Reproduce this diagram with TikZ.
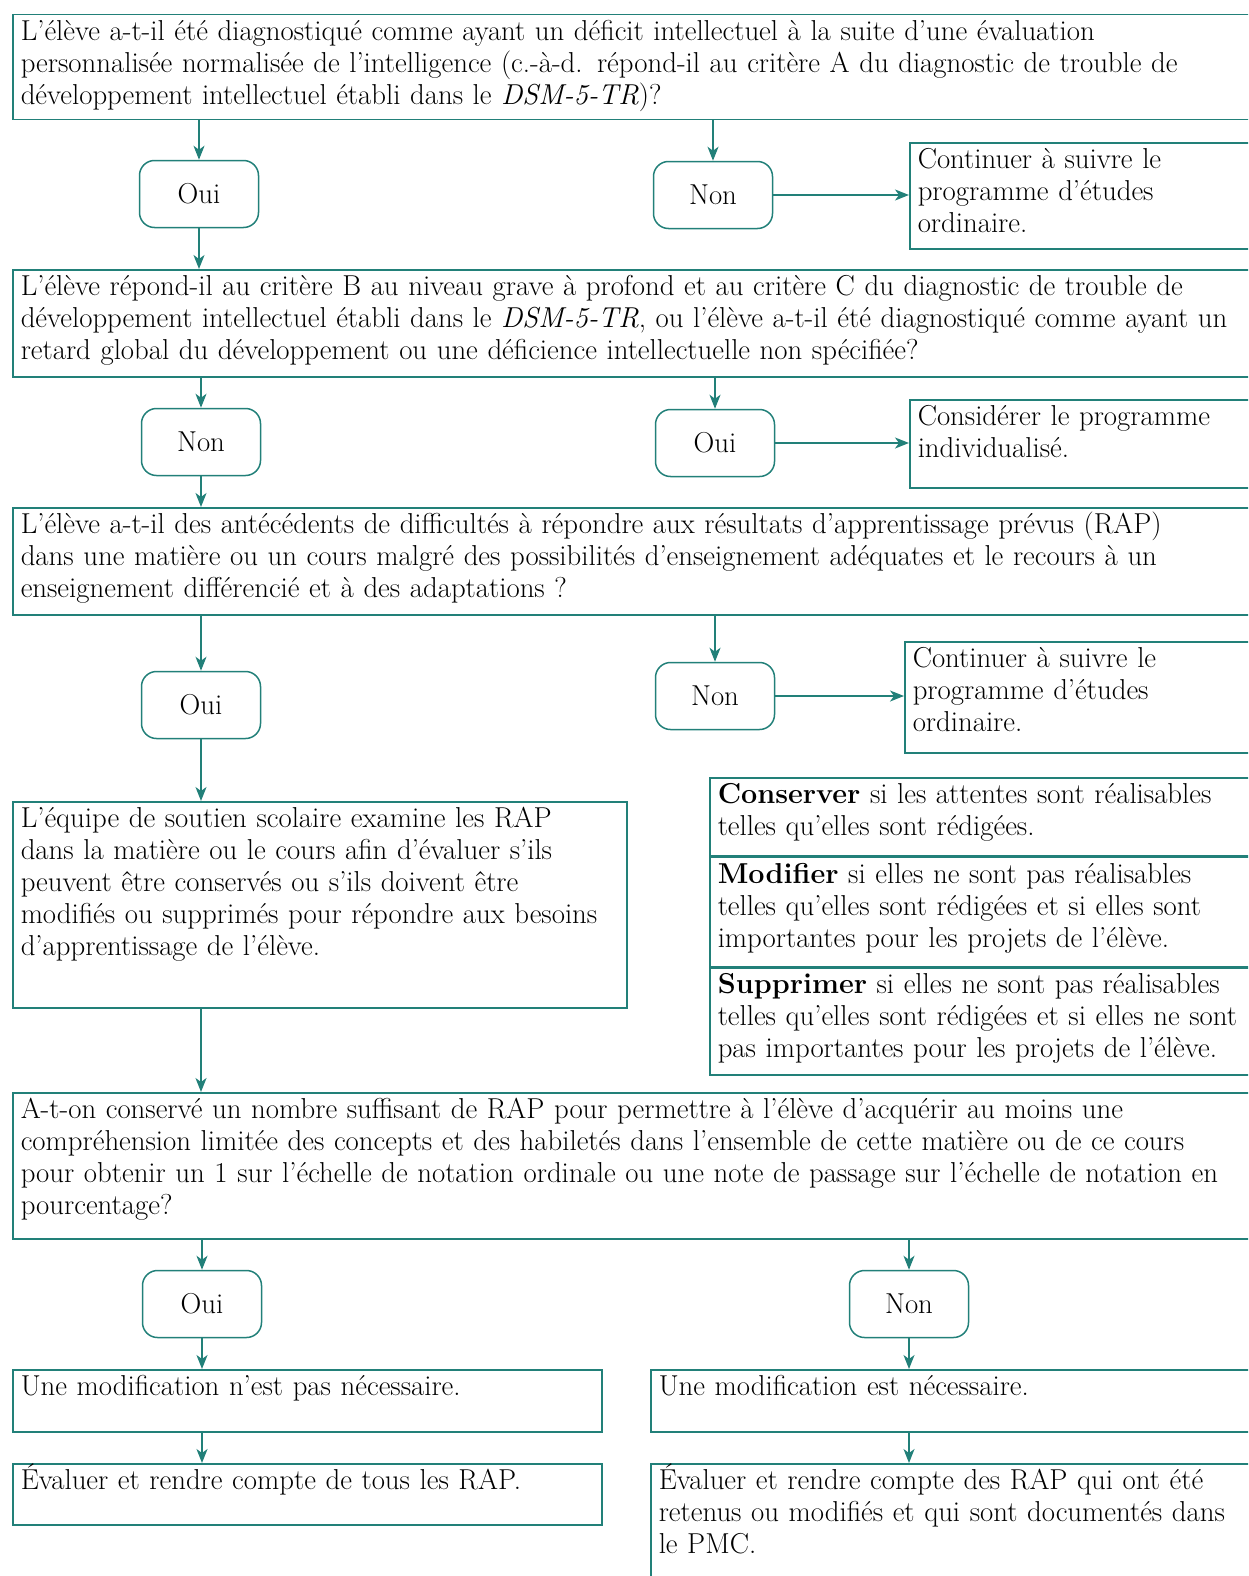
\documentclass[tikz,border=0pt]{standalone}
\usepackage{tikz}
\usetikzlibrary{arrows.meta}
\definecolor{flowteal}{RGB}{34,128,121}

\begin{document}
\begin{tikzpicture}[x=1pt,y=-1pt,
    qbox/.style={draw=flowteal,line width=1.5pt,rectangle,anchor=north west,align=left,
      inner xsep=8pt,inner ysep=6pt,text height=20pt,text width=#1},
    qbox/.default=1300pt,
    ansbox/.style={draw=flowteal,line width=1.5pt,rounded corners=15pt,
      minimum width=119pt,minimum height=67pt,inner sep=0pt},
    arr/.style={draw=flowteal,line width=1.5pt,-{Stealth[length=14pt,width=11pt,inset=4pt]}},
    every node/.style={font=\fontsize{28.8}{32}\selectfont}]

  %% Page frame
  \useasboundingbox (0,0) rectangle (1248,1576);
  \clip (0,0) rectangle (1248,1576);

  %% Questions (full width)
  \node[qbox,text depth=73pt] (q1) at (12,14) {L’élève a-t-il été diagnostiqué comme ayant un déficit intellectuel à la suite d’une évaluation\\
    personnalisée normalisée de l’intelligence (c.-à-d. répond-il au critère A du diagnostic de trouble de\\
    développement intellectuel établi dans le \textit{DSM-5-TR})?};
  \node[qbox,text depth=75pt] (q2) at (12,269) {L’élève répond-il au critère B au niveau grave à profond et au critère C du diagnostic de trouble de\\
    développement intellectuel établi dans le \textit{DSM-5-TR}, ou l’élève a-t-il été diagnostiqué comme ayant un\\
    retard global du développement ou une déficience intellectuelle non spécifiée?};
  \node[qbox,text depth=75pt] (q3) at (12,507) {L’élève a-t-il des antécédents de difficultés à répondre aux résultats d’apprentissage prévus (RAP)\\
    dans une matière ou un cours malgré des possibilités d’enseignement adéquates et le recours à un\\
    enseignement différencié et à des adaptations ?};
  \node[qbox,text depth=114pt] (q4) at (12,1092) {A-t-on conservé un nombre suffisant de RAP pour permettre à l’élève d’acquérir au moins une\\
    compréhension limitée des concepts et des habiletés dans l’ensemble de cette matière ou de ce cours\\
    pour obtenir un 1 sur l’échelle de notation ordinale ou une note de passage sur l’échelle de notation en\\
    pourcentage?};

  %% Oui / Non answers
  \foreach \name/\t/\x/\y in {oui1/Oui/199/194, non1/Non/713/195, non2/Non/201/442, oui2/Oui/715/443,
                              oui3/Oui/201/705, non3/Non/715/696, oui4/Oui/202/1304, non4/Non/909/1304}{
    \node[ansbox] (\name) at (\x,\y) {\t};
  }

  %% Outcome boxes
  \node[qbox=500pt,text depth=74pt] (cont1) at (909,142) {Continuer à suivre le\\programme d’études\\ordinaire.};
  \node[qbox=500pt,text depth=56pt] (cons) at (909,399) {Considérer le programme\\individualisé.};
  \node[qbox=500pt,text depth=79pt] (cont2) at (904,641) {Continuer à suivre le\\programme d’études\\ordinaire.};
  \node[qbox=598pt,text depth=174pt] (equipe) at (12,801) {L’équipe de soutien scolaire examine les RAP\\
    dans la matière ou le cours afin d’évaluer s’ils\\peuvent être conservés ou s’ils doivent être\\
    modifiés ou supprimés pour répondre aux besoins\\d’apprentissage de l’élève.};

  %% Conserver / Modifier / Supprimer
  \node[qbox=600pt,text depth=46pt] (conserver) at (709,777) {\textbf{Conserver} si les attentes sont réalisables\\telles qu’elles sont rédigées.};
  \node[qbox=600pt,text depth=77pt] (modifier) at (conserver.south west) {\textbf{Modifier} si elles ne sont pas réalisables\\
    telles qu’elles sont rédigées et si elles sont\\importantes pour les projets de l’élève.};
  \node[qbox=600pt,text depth=75pt] (supprimer) at (modifier.south west) {\textbf{Supprimer} si elles ne sont pas réalisables\\
    telles qu’elles sont rédigées et si elles ne sont\\pas importantes pour les projets de l’élève.};

  %% Final boxes
  \node[qbox=573pt,text depth=30pt] (modnot) at (12,1369) {Une modification n’est pas nécessaire.};
  \node[qbox=573pt,text depth=29pt] (eval1) at (12,1463) {Évaluer et rendre compte de tous les RAP.};
  \node[qbox=600pt,text depth=30pt] (modyes) at (650,1369) {Une modification est nécessaire.};
  \node[qbox=600pt,text depth=118pt] (eval2) at (650,1463) {Évaluer et rendre compte des RAP qui ont été\\
    retenus ou modifiés et qui sont documentés dans\\le PMC.};

  %% Connectors
  \draw[arr] (oui1.north |- q1.south) -- (oui1.north);
  \draw[arr] (non1.north |- q1.south) -- (non1.north);
  \draw[arr] (non1.east) -- (non1.east -| cont1.west);
  \draw[arr] (oui1.south) -- (oui1.south |- q2.north);

  \draw[arr] (non2.north |- q2.south) -- (non2.north);
  \draw[arr] (oui2.north |- q2.south) -- (oui2.north);
  \draw[arr] (oui2.east) -- (oui2.east -| cons.west);
  \draw[arr] (non2.south) -- (non2.south |- q3.north);

  \draw[arr] (oui3.north |- q3.south) -- (oui3.north);
  \draw[arr] (non3.north |- q3.south) -- (non3.north);
  \draw[arr] (non3.east) -- (non3.east -| cont2.west);
  \draw[arr] (oui3.south) -- (oui3.south |- equipe.north);
  \draw[arr] (oui3.south |- equipe.south) -- (oui3.south |- q4.north);

  \draw[arr] (oui4.north |- q4.south) -- (oui4.north);
  \draw[arr] (non4.north |- q4.south) -- (non4.north);
  \draw[arr] (oui4.south) -- (oui4.south |- modnot.north);
  \draw[arr] (oui4.south |- modnot.south) -- (oui4.south |- eval1.north);
  \draw[arr] (non4.south) -- (non4.south |- modyes.north);
  \draw[arr] (non4.south |- modyes.south) -- (non4.south |- eval2.north);

\end{tikzpicture}
\end{document}
